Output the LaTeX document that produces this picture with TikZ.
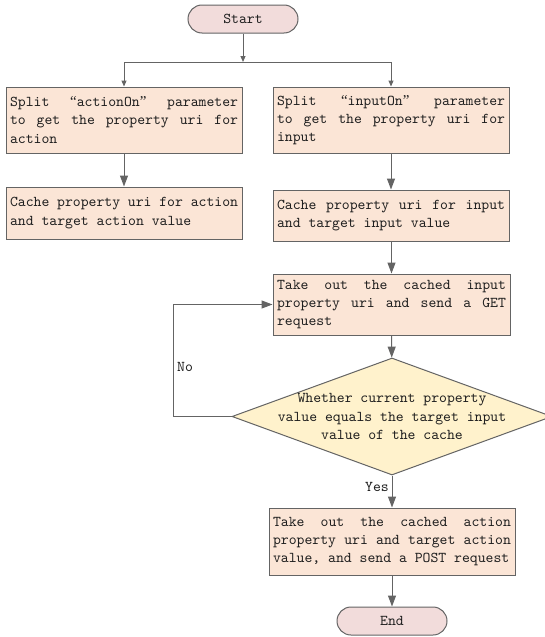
\documentclass[tikz,border=0pt]{standalone}
\usepackage{fontspec}
\usetikzlibrary{arrows.meta,shapes.geometric}
\newfontfamily\boxfnt{lmmono10-regular}[Extension=.otf]
\newfontfamily\quotefnt{Liberation Serif}
\newcommand{\myfnt}{\boxfnt\fontsize{15}{18.3}\selectfont\fontdimen3\font=5pt\fontdimen4\font=1pt}
\newcommand{\oq}{\makebox[12pt][r]{\quotefnt “}}
\newcommand{\cq}{\makebox[12pt][l]{\quotefnt ”}}
\definecolor{boxfill}{RGB}{251,229,214}
\definecolor{termfill}{RGB}{242,220,219}
\definecolor{decfill}{RGB}{255,242,204}
\definecolor{edge}{RGB}{100,100,100}
\definecolor{ink}{RGB}{30,30,30}
\tikzset{
  x=1pt,y=-1pt,
  every node/.style={text=ink,font=\myfnt},
  procbox/.style={draw=edge,line width=1pt,fill=boxfill,text width=228pt,align=justify,inner xsep=4pt,inner ysep=0pt,minimum width=236pt},
  termbox/.style={draw=edge,line width=1pt,fill=termfill,rounded corners=14pt,minimum width=110pt,minimum height=28pt,inner sep=0pt},
  decision/.style={diamond,draw=edge,line width=1pt,fill=decfill,minimum width=320pt,minimum height=117pt,inner sep=0pt},
  conn/.style={draw=edge,line width=1pt},
  bigarrow/.style={conn,-{Triangle[length=11pt,width=8pt]}},
  smallarrow/.style={conn,-{Triangle[length=6pt,width=5pt]}},
}
\begin{document}
\begin{tikzpicture}
\useasboundingbox (0,0) rectangle (545,637);
\fill[white] (0,0) rectangle (545,637);
\node[termbox] (start) at (243,19) {Start};
\node[procbox,minimum height=66pt] (l1) at (124,120) {Split \oq actionOn\cq\ parameter\linebreak to get the property uri for\linebreak action};
\node[procbox,minimum height=66pt] (r1) at (391,120) {Split \oq inputOn\cq\ parameter\linebreak to get the property uri for\linebreak input};
\node[procbox,minimum height=52pt] (l2) at (124,213) {Cache property uri for action\linebreak and target action value};
\node[procbox,minimum height=51pt] (r2) at (391,215.5) {Cache property uri for input\linebreak and target input value};
\node[procbox,minimum height=61pt,minimum width=237pt,text width=229pt] (g) at (391.5,304.5) {Take out the cached input\linebreak property uri and send a GET\linebreak request};
\node[decision] (d) at (392,416.5) {};
\node[align=center,inner sep=0pt] (dt) at (392,416.5) {Whether current property\\value equals the target input\\value of the cache};
\node[procbox,minimum height=67pt,minimum width=246pt,text width=238pt] (f) at (392,541.5) {Take out the cached action\linebreak property uri and target action\linebreak value, and send a POST request};
\node[termbox] (end) at (392,621) {End};
\coordinate (br) at (243,62);
\coordinate (lp) at (173,416.5);
\draw[smallarrow] (start) -- (br);
\draw[smallarrow] (br) -| (l1);
\draw[smallarrow] (br) -| (r1);
\draw[bigarrow] (l1) -- (l2);
\draw[bigarrow] (r1) -- (r2);
\draw[bigarrow] (r2.south -| g.north) -- (g.north);
\draw[bigarrow] (g) -- (d);
\draw[bigarrow] (d.west) -- (lp) |- (g.west);
\draw[bigarrow] (d) -- (f);
\draw[bigarrow] (f) -- (end);
\node[anchor=west,inner sep=0pt] (no) at (177,367) {No};
\node[anchor=east,inner sep=0pt] (yes) at (389,487) {Yes};
\end{tikzpicture}
\end{document}
